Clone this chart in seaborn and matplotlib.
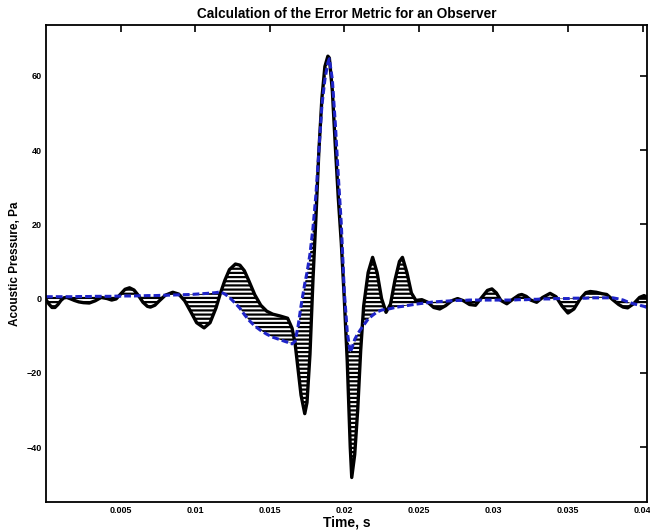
import numpy as np
import pandas as pd
import matplotlib
matplotlib.use("Agg")
import matplotlib.pyplot as plt
import seaborn as sns

# Time samples (s)
time_s = [
    0.0000, 0.0002, 0.0004, 0.0006, 0.0008, 0.0010, 0.0012, 0.0014, 0.0016, 0.0019,
    0.0022, 0.0025, 0.0029, 0.0033, 0.0037, 0.0041, 0.0044, 0.0047, 0.0050, 0.0053,
    0.0056, 0.0059, 0.0062, 0.0065, 0.0068, 0.0070, 0.0073, 0.0076, 0.0080, 0.0085,
    0.0089, 0.0093, 0.0097, 0.0101, 0.0106, 0.0110, 0.0114, 0.0117, 0.0120, 0.0123,
    0.0127, 0.0130, 0.0133, 0.0136, 0.0140, 0.0144, 0.0148, 0.0152, 0.0157, 0.0162,
    0.0165, 0.0167, 0.0169, 0.0171, 0.01735, 0.0175, 0.0177, 0.0179, 0.0181, 0.0183,
    0.0185, 0.0187, 0.0189, 0.0190, 0.0192, 0.0194, 0.0196, 0.0198, 0.0200, 0.0202,
    0.0204, 0.0205, 0.0207, 0.0209, 0.0211, 0.0213, 0.0216, 0.0219, 0.0222, 0.0225,
    0.0228, 0.0231, 0.0234, 0.0237, 0.0239, 0.0242, 0.0245, 0.0248, 0.0252, 0.0256,
    0.0260, 0.0264, 0.0268, 0.0272, 0.0276, 0.0280, 0.0284, 0.0288, 0.0292, 0.0296,
    0.0299, 0.0302, 0.0305, 0.0309, 0.0313, 0.0317, 0.0319, 0.0322, 0.0325, 0.0329,
    0.0333, 0.0338, 0.0342, 0.0346, 0.0350, 0.0354, 0.0358, 0.0362, 0.0365, 0.0369,
    0.0373, 0.0376, 0.0380, 0.0384, 0.0387, 0.0390, 0.0394, 0.0398, 0.0401, 0.0403,
]

# Measured acoustic pressure at the observer (Pa)
measured_pa = [
    -0.3, -1.5, -2.4, -2.4, -1.6, -0.5, 0.2, 0.3, 0.0, -0.5,
    -0.9, -1.1, -1.2, -0.6, 0.3, 0.0, -0.4, -0.1, 1.2, 2.5,
    2.9, 2.3, 0.8, -1.0, -2.1, -2.3, -1.8, -0.6, 0.9, 1.7,
    1.2, -0.6, -3.5, -6.5, -7.9, -6.5, -2.5, 1.5, 5.0, 7.8,
    9.3, 9.0, 7.5, 4.8, 1.0, -1.8, -3.4, -4.2, -4.7, -5.3,
    -8.0, -12.0, -19.0, -26.0, -31.0, -28.0, -15.0, 5.0, 22.0, 40.0,
    54.0, 62.5, 65.3, 64.8, 56.0, 41.0, 27.0, 15.0, 0.0, -17.0,
    -40.0, -48.2, -42.0, -30.0, -14.0, -2.0, 7.0, 11.1, 7.0, 0.0,
    -3.7, -1.5, 5.0, 10.0, 11.1, 7.0, 1.5, -0.5, -0.3, -1.0,
    -2.4, -2.8, -1.9, -0.6, 0.0, -0.6, -1.6, -1.8, 0.2, 2.2,
    2.6, 1.5, -0.5, -1.4, -0.2, 0.9, 1.1, 0.6, -0.4, -1.0,
    0.3, 1.4, 0.5, -2.0, -3.9, -2.8, -0.2, 1.6, 1.9, 1.7,
    1.3, 1.1, -0.3, -1.6, -2.3, -2.5, -1.4, 0.3, 0.8, 0.4,
]

# Predicted acoustic pressure at the observer (Pa)
predicted_pa = [
    0.5, 0.5, 0.5, 0.5, 0.5, 0.5, 0.5, 0.5, 0.5, 0.5,
    0.55, 0.55, 0.55, 0.6, 0.6, 0.6, 0.6, 0.65, 0.65, 0.7,
    0.7, 0.7, 0.75, 0.75, 0.8, 0.8, 0.8, 0.85, 0.9, 0.95,
    1.0, 1.05, 1.1, 1.2, 1.3, 1.45, 1.6, 1.8, 1.2, 0.3,
    -1.3, -2.6, -4.3, -5.8, -7.4, -8.6, -9.6, -10.4, -11.1, -11.8,
    -12.2, -11.5, -7.5, -2.0, 4.0, 7.0, 12.0, 19.0, 28.0, 40.0,
    52.0, 59.0, 63.5, 64.6, 59.0, 47.0, 33.0, 20.0, 2.0, -9.0,
    -14.5, -13.5, -11.0, -9.5, -8.3, -7.2, -5.5, -4.5, -3.6, -3.1,
    -2.9, -2.7, -2.4, -2.2, -2.1, -1.9, -1.7, -1.5, -1.3, -1.1,
    -0.9, -0.8, -0.7, -0.6, -0.5, -0.5, -0.4, -0.4, -0.4, -0.4,
    -0.4, -0.4, -0.4, -0.4, -0.4, -0.3, -0.3, -0.3, -0.2, -0.2,
    -0.1, -0.1, 0.0, 0.0, 0.0, 0.1, 0.1, 0.1, 0.2, 0.2,
    0.2, 0.2, 0.2, -0.1, -0.4, -0.9, -1.4, -1.8, -2.1, -2.4,
]

x_ticks = [0.005, 0.01, 0.015, 0.02, 0.025, 0.03, 0.035, 0.04]
x_tick_labels = ["0.005", "0.01", "0.015", "0.02", "0.025", "0.03", "0.035", "0.04"]
y_ticks = [-40, -20, 0, 20, 40, 60]

df = pd.DataFrame({"t": time_s, "measured": measured_pa, "predicted": predicted_pa})

sns.set_style("white")
plt.rcParams["font.family"] = ["Liberation Sans", "DejaVu Sans"]
plt.rcParams["font.weight"] = "bold"
plt.rcParams["text.color"] = "black"
plt.rcParams["axes.labelcolor"] = "black"
plt.rcParams["xtick.color"] = "black"
plt.rcParams["ytick.color"] = "black"
plt.rcParams["hatch.linewidth"] = 1.6
plt.rcParams["hatch.color"] = "black"

fig = plt.figure(figsize=(6.5, 5.31), dpi=100)
ax = fig.add_axes([0.0708, 0.0546, 0.9246, 0.8984])

# Error region between the two signals
ax.fill_between(df["t"], df["measured"], df["predicted"], facecolor="none",
                edgecolor="black", hatch="----", linewidth=0)

sns.lineplot(data=df, x="t", y="measured", ax=ax, color="black",
             linewidth=2.4, sort=False)
sns.lineplot(data=df, x="t", y="predicted", ax=ax, color="#1f24c8",
             linewidth=2.2, linestyle=(0, (2.2, 1.0)), sort=False)

ax.set_xlim(0, 0.0403)
ax.set_ylim(-54.8, 73.7)
ax.set_xticks(x_ticks)
ax.set_xticklabels(x_tick_labels)
ax.set_yticks(y_ticks)

ax.tick_params(direction="in", length=5, width=1.2, top=True, right=True,
               labelsize=6.5, pad=3, colors="black")
for lbl in ax.get_xticklabels() + ax.get_yticklabels():
    lbl.set_fontweight("bold")
for sp in ax.spines.values():
    sp.set_linewidth(1.3)
    sp.set_color("black")

ax.set_title("Calculation of the Error Metric for an Observer", fontsize=9.8,
             fontweight="bold", pad=5, color="black")
ax.set_xlabel("Time, s", fontsize=10, fontweight="bold", labelpad=0)
ax.set_ylabel("Acoustic Pressure, Pa", fontsize=8.5, fontweight="bold", labelpad=4)

fig.savefig("out.png", dpi=100)
